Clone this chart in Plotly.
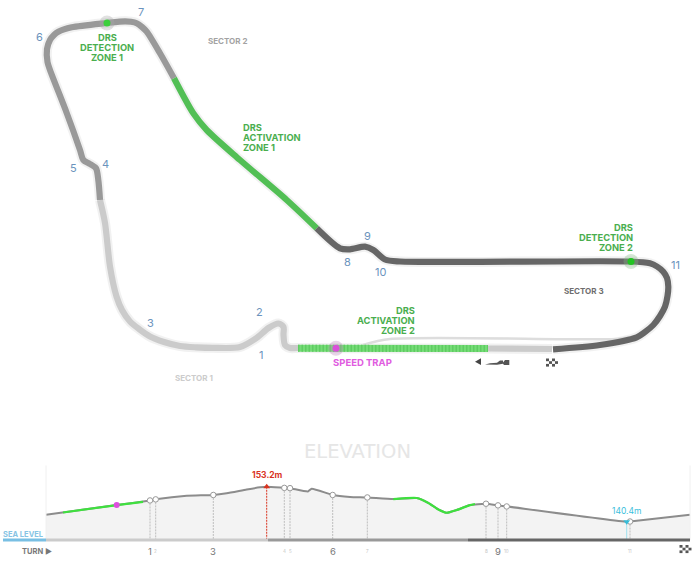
import plotly.graph_objects as go

# Circuit outline (x, y on a 700 x 563 map)
sector1_x = [552, 488, 400, 298, 290, 285, 283.5, 283.5, 278.5, 268.5, 256.5, 240, 213, 196, 180, 164, 150, 139, 130, 122, 116.5, 110, 105, 100]
sector1_y = [349, 348.5, 348.5, 348, 348, 345, 335, 327, 323.5, 328, 338, 347, 347.8, 347.3, 346, 342, 336.5, 329, 321.5, 310, 296.5, 266.5, 223, 200]
sector2a_x = [100, 98.3, 96, 90, 83.3, 80, 66.7, 50, 47.5, 47, 50, 54, 58.3, 71.7, 106.7, 125, 131, 136.7, 142, 146.7, 160, 174]
sector2a_y = [200, 180, 168.3, 164, 160, 150, 113, 70, 62, 49, 40, 35, 31.7, 27.3, 23, 21.3, 21.8, 23.3, 27, 31.7, 53.3, 78.3]
drs1_x = [174, 193.3, 206.7, 240, 286.7, 316.7]
drs1_y = [78.3, 113.3, 130, 160, 200, 228.3]
sector3_x = [316.7, 340, 350, 365, 373.3, 385, 400, 630, 650, 657, 663.3, 667, 668.3, 667.5, 665, 660, 653.3, 645, 636.7, 600, 553]
sector3_y = [228.3, 248.3, 249.3, 246.7, 250, 259.5, 261.5, 261.5, 263.3, 266.5, 271.7, 278, 286.7, 296, 306.7, 316, 325, 332, 337.3, 345, 349.3]
pit_x = [363, 390, 617, 634]
pit_y = [345, 339, 339, 336.5]
drs2_x = [298, 488]
drs2_y = [348.3, 348.5]

# Elevation along the lap
lap_pos = [46, 116.7, 150, 155.7, 186.7, 213.3, 226.7, 246.7, 260, 266.7, 284.3, 290, 308, 311.7, 332.7, 350,
           367.3, 393.3, 416.7, 428.3, 438.3, 446.7, 456.7, 470, 486, 498, 506.7, 626.7, 630, 690]
elevation = [143.0, 146.5, 148.2, 148.6, 149.9, 150.2, 150.8, 152.2, 153.0, 153.2, 152.8, 152.7, 151.5, 152.5, 150.2, 149.5,
             149.3, 148.7, 149.1, 147.3, 144.9, 143.7, 144.7, 146.5, 147.0, 146.4, 146.0, 140.4, 140.5, 143.0]
green1_pos = [63, 116.7, 143]
green1_elev = [143.8, 146.5, 147.7]
green2_pos = [393.3, 416.7, 428.3, 438.3, 446.7, 456.7, 470, 475]
green2_elev = [148.7, 149.1, 147.3, 144.9, 143.7, 144.7, 146.5, 146.9]

turn_pos = [150, 155.7, 213.3, 284.3, 290, 332.7, 367.3, 486, 498, 506.7, 630]
turn_elev = [148.2, 148.6, 150.2, 152.8, 152.7, 150.2, 149.3, 147.0, 146.4, 146.0, 140.5]
turn_names = ["1", "2", "3", "4", "5", "6", "7", "8", "9", "10", "11"]
big_turns = ["1", "3", "6", "9"]

map_turn_x = [260.5, 259, 150, 105, 73, 39, 141, 347, 367, 380, 675]
map_turn_y = [355, 312, 322.5, 164, 168, 36.5, 12, 262, 236, 272, 265]

C1, C2, C3 = "#cbcbcb", "#999999", "#666666"
GREEN = "#52bf55"
FONT = "Inter"
BASE = 133.7
AXIS_BOTTOM = 131.9

fig = go.Figure()


def track(x, y, color, width=6.2, dash=None, opacity=1):
    fig.add_trace(go.Scatter(x=x, y=y, mode="lines", opacity=opacity, hoverinfo="skip",
                             line=dict(color=color, width=width, dash=dash, shape="spline", smoothing=0.8)))


# soft halo under the track
for xs, ys in [(sector1_x, sector1_y), (sector2a_x, sector2a_y), (drs1_x, drs1_y), (sector3_x, sector3_y)]:
    track(xs, ys, "#bbbbbb", 10, opacity=0.2)

track(pit_x, pit_y, "#dddddd", 2.5)
track(sector1_x, sector1_y, C1)
track(sector2a_x, sector2a_y, C2)
track(drs1_x, drs1_y, GREEN)
track(sector3_x, sector3_y, C3)
track(drs2_x, drs2_y, "#74dc76", 7)
track(drs2_x, drs2_y, "#5fcc62", 7, dash="1.5px,2px")

# detection points and speed trap
for x, y, halo, core in [(107, 23, "#aaaaaa", "#3ccf3c"), (631, 261.5, "#88bb88", "#22c422"), (336, 348.3, "#bb88bb", "#d94fd9")]:
    fig.add_trace(go.Scatter(x=[x], y=[y], mode="markers", hoverinfo="skip",
                             marker=dict(size=15, color=halo, opacity=0.35)))
    fig.add_trace(go.Scatter(x=[x], y=[y], mode="markers", hoverinfo="skip",
                             marker=dict(size=7, color=core)))

# elevation profile, second pair of axes
el = dict(xaxis="x2", yaxis="y2", hoverinfo="skip")
fig.add_trace(go.Scatter(x=[46, 690], y=[BASE, BASE], mode="lines", line=dict(width=0), **el))
fig.add_trace(go.Scatter(x=lap_pos, y=elevation, mode="lines", fill="tonexty", fillcolor="#f3f3f3",
                         line=dict(color="#8c8c8c", width=2, shape="spline", smoothing=0.5), **el))
for xs, ys in [(green1_pos, green1_elev), (green2_pos, green2_elev)]:
    fig.add_trace(go.Scatter(x=xs, y=ys, mode="lines",
                             line=dict(color="#3ee03e", width=2.2, shape="spline", smoothing=0.5), **el))

# edges of the elevation panel
for x in [46, 690]:
    fig.add_trace(go.Scatter(x=[x, x], y=[BASE, 161], mode="lines", line=dict(color="#f0f0f0", width=1), **el))

# turn drop lines
drop_x, drop_y = [], []
for p, e in zip(turn_pos, turn_elev):
    drop_x += [p, p, None]
    drop_y += [e, BASE, None]
fig.add_trace(go.Scatter(x=drop_x, y=drop_y, mode="lines", line=dict(color="#bdbdbd", width=1, dash="2px,1px"), **el))
fig.add_trace(go.Scatter(x=[266.7, 266.7], y=[153.2, BASE], mode="lines", line=dict(color="#d9331f", width=1, dash="2px,1px"), **el))
fig.add_trace(go.Scatter(x=[626.7, 626.7], y=[140.4, BASE], mode="lines", line=dict(color="#9fe0ee", width=1), **el))
fig.add_trace(go.Scatter(x=turn_pos, y=turn_elev, mode="markers",
                         marker=dict(size=5.5, color="white", line=dict(color="#999999", width=1)), **el))
fig.add_trace(go.Scatter(x=[116.7], y=[146.5], mode="markers", marker=dict(size=6, color="#dd4fdd"), **el))
fig.add_trace(go.Scatter(x=[266.7], y=[153.2], mode="markers", marker=dict(size=6, color="#d9331f", symbol="triangle-up"), **el))
fig.add_trace(go.Scatter(x=[626.7], y=[140.4], mode="markers", marker=dict(size=6, color="#35bcd8", symbol="triangle-down"), **el))

# bottom sector bar
for xs, col in [([3, 46], "#79bfe3"), ([46, 268], C1), ([268, 468], C2), ([468, 690], C3)]:
    fig.add_trace(go.Scatter(x=xs, y=[BASE, BASE], mode="lines", line=dict(color=col, width=3), **el))

anns = []


def label(x, y, text, color, size, bold=False, anchor="center", family=FONT):
    anns.append(dict(x=x, y=y, text=f"<b>{text}</b>" if bold else text, showarrow=False, xanchor=anchor, yanchor="middle",
                     font=dict(family=family, size=size, color=color)))


for lines, x, y0, anc in [(["DRS", "DETECTION", "ZONE 1"], 107, 37.5, "center"),
                          (["DRS", "ACTIVATION", "ZONE 1"], 241, 127.5, "left"),
                          (["DRS", "DETECTION", "ZONE 2"], 635, 227.5, "right"),
                          (["DRS", "ACTIVATION", "ZONE 2"], 417, 310.3, "right")]:
    for i, t in enumerate(lines):
        label(x, y0 + i * 10, t, "#4aae4e", 9.3, True, anc)

label(331, 362.5, "SPEED TRAP", "#e05ce0", 9.5, True, "left")
label(194, 378, "SECTOR 1", "#cccccc", 8, True)
label(227, 41, "SECTOR 2", "#a3a3a3", 8, True)
label(584, 290.5, "SECTOR 3", "#6e6e6e", 8, True)
for x, y, t in zip(map_turn_x, map_turn_y, turn_names):
    label(x, y, t, "#6b93bd", 11)

label(357, 451, "ELEVATION", "#e6e6e6", 19.5, family="DejaVu Sans")
label(23, 534, "SEA LEVEL", "#86c4e4", 7.5, True)
label(37, 551.5, "TURN ▶", "#777777", 7.5, True)
label(267, 475, "153.2m", "#d9331f", 8.5, True)
label(626, 511, "140.4m", "#3cc0dc", 8.5)
for p, t in zip(turn_pos, turn_names):
    if t in big_turns:
        label(p, 551, t, "#777777", 9.5)
    else:
        label(p, 551, t, "#c4c4c4", 4.5)

# little car, arrow and chequered flags
shapes = [
    dict(type="path", path="M475,361.8 L481,358.3 L481,365 Z", fillcolor="#444444", line_width=0),
    dict(type="path", path="M485,364.6 L490,363.2 L497,362.8 L500,360.5 L503,360.5 L503,362.5 L505,360 L509.3,360 L509.3,365 L504,365 L503,363.8 L497,364.8 Z",
         fillcolor="#555555", line_width=0),
]
for ox, oy in [(546, 358.5), (679.5, 545)]:
    for r in range(3):
        for c in range(4):
            if (r + c) % 2 == 0:
                shapes.append(dict(type="rect", x0=ox + c * 3, x1=ox + c * 3 + 3, y0=oy + r * 2.7, y1=oy + r * 2.7 + 2.7,
                                   fillcolor="#555555", line_width=0))

hidden = dict(visible=False, fixedrange=True)
y_bottom = 1 - 545 / 563
y_top = 1 - 460 / 563
fig.update_layout(
    width=700, height=563, margin=dict(l=0, r=0, t=0, b=0),
    paper_bgcolor="white", plot_bgcolor="white", showlegend=False,
    xaxis=dict(range=[0, 700], domain=[0, 1], **hidden),
    yaxis=dict(range=[563, 0], domain=[0, 1], **hidden),
    xaxis2=dict(range=[0, 700], domain=[0, 1], anchor="y2", **hidden),
    yaxis2=dict(range=[AXIS_BOTTOM, 163], domain=[y_bottom, y_top], anchor="x2", **hidden),
    annotations=anns, shapes=shapes,
)

fig.write_html("out.html", config=dict(displayModeBar=False),
               post_script="document.body.style.margin='0'")
